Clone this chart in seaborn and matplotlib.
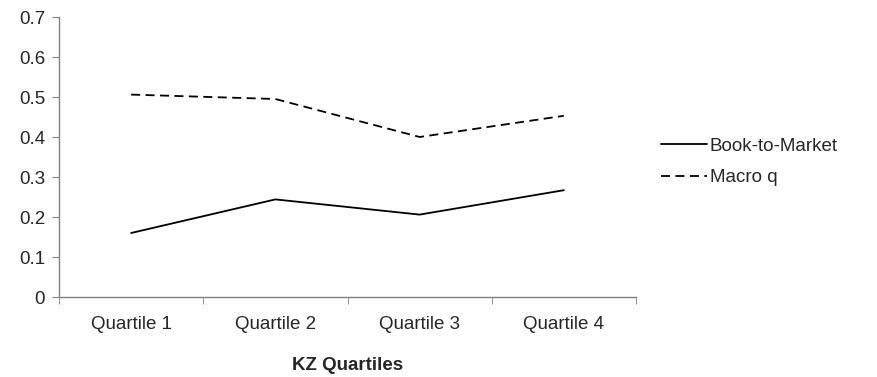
import pandas as pd
import numpy as np
import matplotlib
matplotlib.use("Agg")
import matplotlib.pyplot as plt
import seaborn as sns

# Values
quartiles = ["Quartile 1", "Quartile 2", "Quartile 3", "Quartile 4"]
book_to_market = [0.16, 0.244, 0.206, 0.267]
macro_q = [0.506, 0.495, 0.40, 0.453]

df = pd.DataFrame({"Quartile": quartiles,
                   "Book-to-Market": book_to_market,
                   "Macro q": macro_q})
df_long = df.melt(id_vars="Quartile", var_name="Series", value_name="Value")

sns.set_style("white")
plt.rcParams["font.family"] = ["Liberation Sans", "DejaVu Sans"]
fs = 13.5

fig = plt.figure(figsize=(8.77, 3.77), dpi=100)
ax = fig.add_axes([59 / 877, 1 - 297 / 377, (636 - 59) / 877, (297 - 17) / 377])

sns.lineplot(data=df_long, x="Quartile", y="Value", style="Series",
             dashes={"Book-to-Market": "", "Macro q": (5, 3)},
             color="black", linewidth=1.3, ax=ax)

ax.set_xlim(-0.5, 3.5)
ax.set_ylim(0, 0.7)
ax.set_yticks(np.arange(0, 0.71, 0.1))
ax.set_yticklabels(["0", "0.1", "0.2", "0.3", "0.4", "0.5", "0.6", "0.7"])
ax.set_xticks(range(4))
ax.set_xticklabels(quartiles)
ax.set_xticks(np.arange(-0.5, 3.6, 1), minor=True)

for side in ["top", "right"]:
    ax.spines[side].set_visible(False)
for side in ["left", "bottom"]:
    ax.spines[side].set_color("#808080")
    ax.spines[side].set_linewidth(1)

ax.tick_params(axis="y", which="major", direction="out", length=5, color="#808080",
               labelsize=fs, pad=5, left=True)
ax.tick_params(axis="x", which="major", length=0, labelsize=fs, pad=14)
ax.tick_params(axis="x", which="minor", direction="out", length=5, color="#808080",
               bottom=True)

ax.set_ylabel("")
ax.set_xlabel("KZ Quartiles", fontsize=fs, fontweight="bold", labelpad=17)

handles, labels = ax.get_legend_handles_labels()
ax.legend(handles, labels, loc="center left", bbox_to_anchor=(652 / 877, 1 - 162 / 377),
          bbox_transform=fig.transFigure, frameon=False, fontsize=fs,
          handlelength=2.45, handletextpad=0.12, labelspacing=0.75, borderpad=0)

fig.savefig("out.png", dpi=100, facecolor="white")
